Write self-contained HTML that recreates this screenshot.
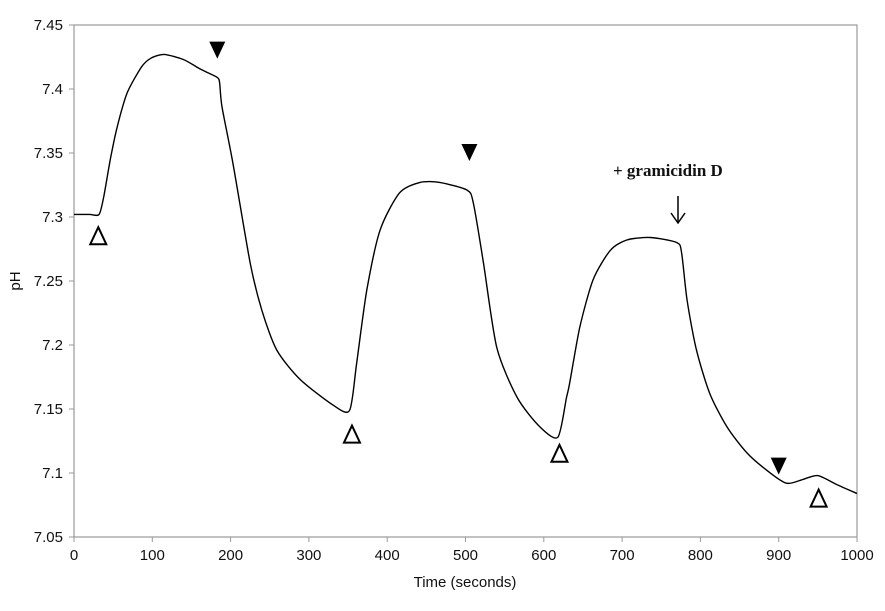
<!DOCTYPE html>
<html><head><meta charset="utf-8"><style>
body{margin:0;background:#fff}
svg text{font-family:"Liberation Sans",sans-serif;font-size:15px;fill:#111}
</style></head><body>
<svg id="c" width="885" height="606">
<rect x="74" y="25" width="783" height="512" fill="none" stroke="#999" stroke-width="1.2"/>
<g id="ax"></g>
<path id="ln" fill="none" stroke="#000" stroke-width="1.4" stroke-linejoin="round"/>
<text x="20" y="281" transform="rotate(-90 20 281)" text-anchor="middle">pH</text>
<text x="465" y="587" text-anchor="middle">Time (seconds)</text>
<text x="613" y="176" style="font-family:'Liberation Serif',serif;font-weight:bold;font-size:17px">+ gramicidin D</text>
<g><line x1="678" y1="196" x2="678" y2="222" stroke="#000" stroke-width="1.5"/><path d="M671,213 L678,223 L685,213" fill="none" stroke="#000" stroke-width="1.5"/></g>
<g id="mk"></g>
</svg>
<script>
const times=[0,20,32,38,47,55,68,86,98,115,140,160,170,183,186,189,203,225,240,259,289,331,352,361,374,391,416,442,467,502,510,523,540,566,595,618,629,633,646,663,685,706,736,770,776,783,795,812,834,859,885,910,931,950,974,1000];
const phValues=[7.302,7.302,7.302,7.316,7.347,7.370,7.397,7.417,7.424,7.427,7.423,7.416,7.413,7.409,7.405,7.386,7.342,7.264,7.227,7.196,7.173,7.153,7.149,7.186,7.243,7.29,7.319,7.327,7.327,7.321,7.311,7.264,7.198,7.159,7.136,7.128,7.159,7.170,7.214,7.251,7.274,7.282,7.284,7.280,7.272,7.235,7.196,7.162,7.136,7.116,7.102,7.092,7.095,7.098,7.091,7.084];
const xTicks=[0,100,200,300,400,500,600,700,800,900,1000];
const yTicks=[7.05,7.1,7.15,7.2,7.25,7.3,7.35,7.4,7.45];
const filledMarkers=[[183,7.43],[505,7.35],[900,7.105]];
const openMarkers=[[31,7.285],[355,7.13],[620,7.115],[951,7.08]];
const X=t=>74+t/1000*783, Y=v=>537-(v-7.05)/0.4*512;
const NS="http://www.w3.org/2000/svg", ax=document.getElementById('ax');
function mk(tag,a,p){const e=document.createElementNS(NS,tag);for(const k in a)e.setAttribute(k,a[k]);(p||ax).appendChild(e);return e;}
xTicks.forEach(t=>{
 const l=mk('line',{x1:X(t),x2:X(t),y1:537,y2:542,stroke:'#999'});
 
 
 const e=mk('text',{x:X(t),y:560,'text-anchor':'middle'});e.textContent=t;
 
 
});
yTicks.forEach(v=>{
 const l=mk('line',{x1:69,x2:74,y1:Y(v),y2:Y(v),stroke:'#999'});
 
 
 const e=mk('text',{x:63,y:Y(v)+5,'text-anchor':'end'});e.textContent=String(v);
 
 
});
const P=times.map((t,i)=>[X(t),Y(phValues[i])]);
let d='M'+P[0][0].toFixed(1)+','+P[0][1].toFixed(1);
for(let i=0;i<P.length-1;i++){
 const p0=P[Math.max(0,i-1)],p1=P[i],p2=P[i+1],p3=P[Math.min(P.length-1,i+2)];
 const k=1/8;
 const c1=[p1[0]+(p2[0]-p0[0])*k,p1[1]+(p2[1]-p0[1])*k];
 const c2=[p2[0]-(p3[0]-p1[0])*k,p2[1]-(p3[1]-p1[1])*k];
 d+='C'+c1.map(v=>v.toFixed(1)).join(',')+' '+c2.map(v=>v.toFixed(1)).join(',')+' '+p2.map(v=>v.toFixed(1)).join(',');
}
document.getElementById('ln').setAttribute('d',d);
const mg=document.getElementById('mk');
filledMarkers.forEach(([t,v])=>{const x=X(t),y=Y(v);
 const p=mk('path',{d:`M${x-8},${y-9}L${x+8},${y-9}L${x},${y+8}Z`,fill:'#000'},mg);
 
 });
openMarkers.forEach(([t,v])=>{const x=X(t),y=Y(v);
 const p=mk('path',{d:`M${x},${y-9}L${x+8},${y+8}L${x-8},${y+8}Z`,fill:'none',stroke:'#000','stroke-width':2},mg);
 
 });
</script>
</body></html>
